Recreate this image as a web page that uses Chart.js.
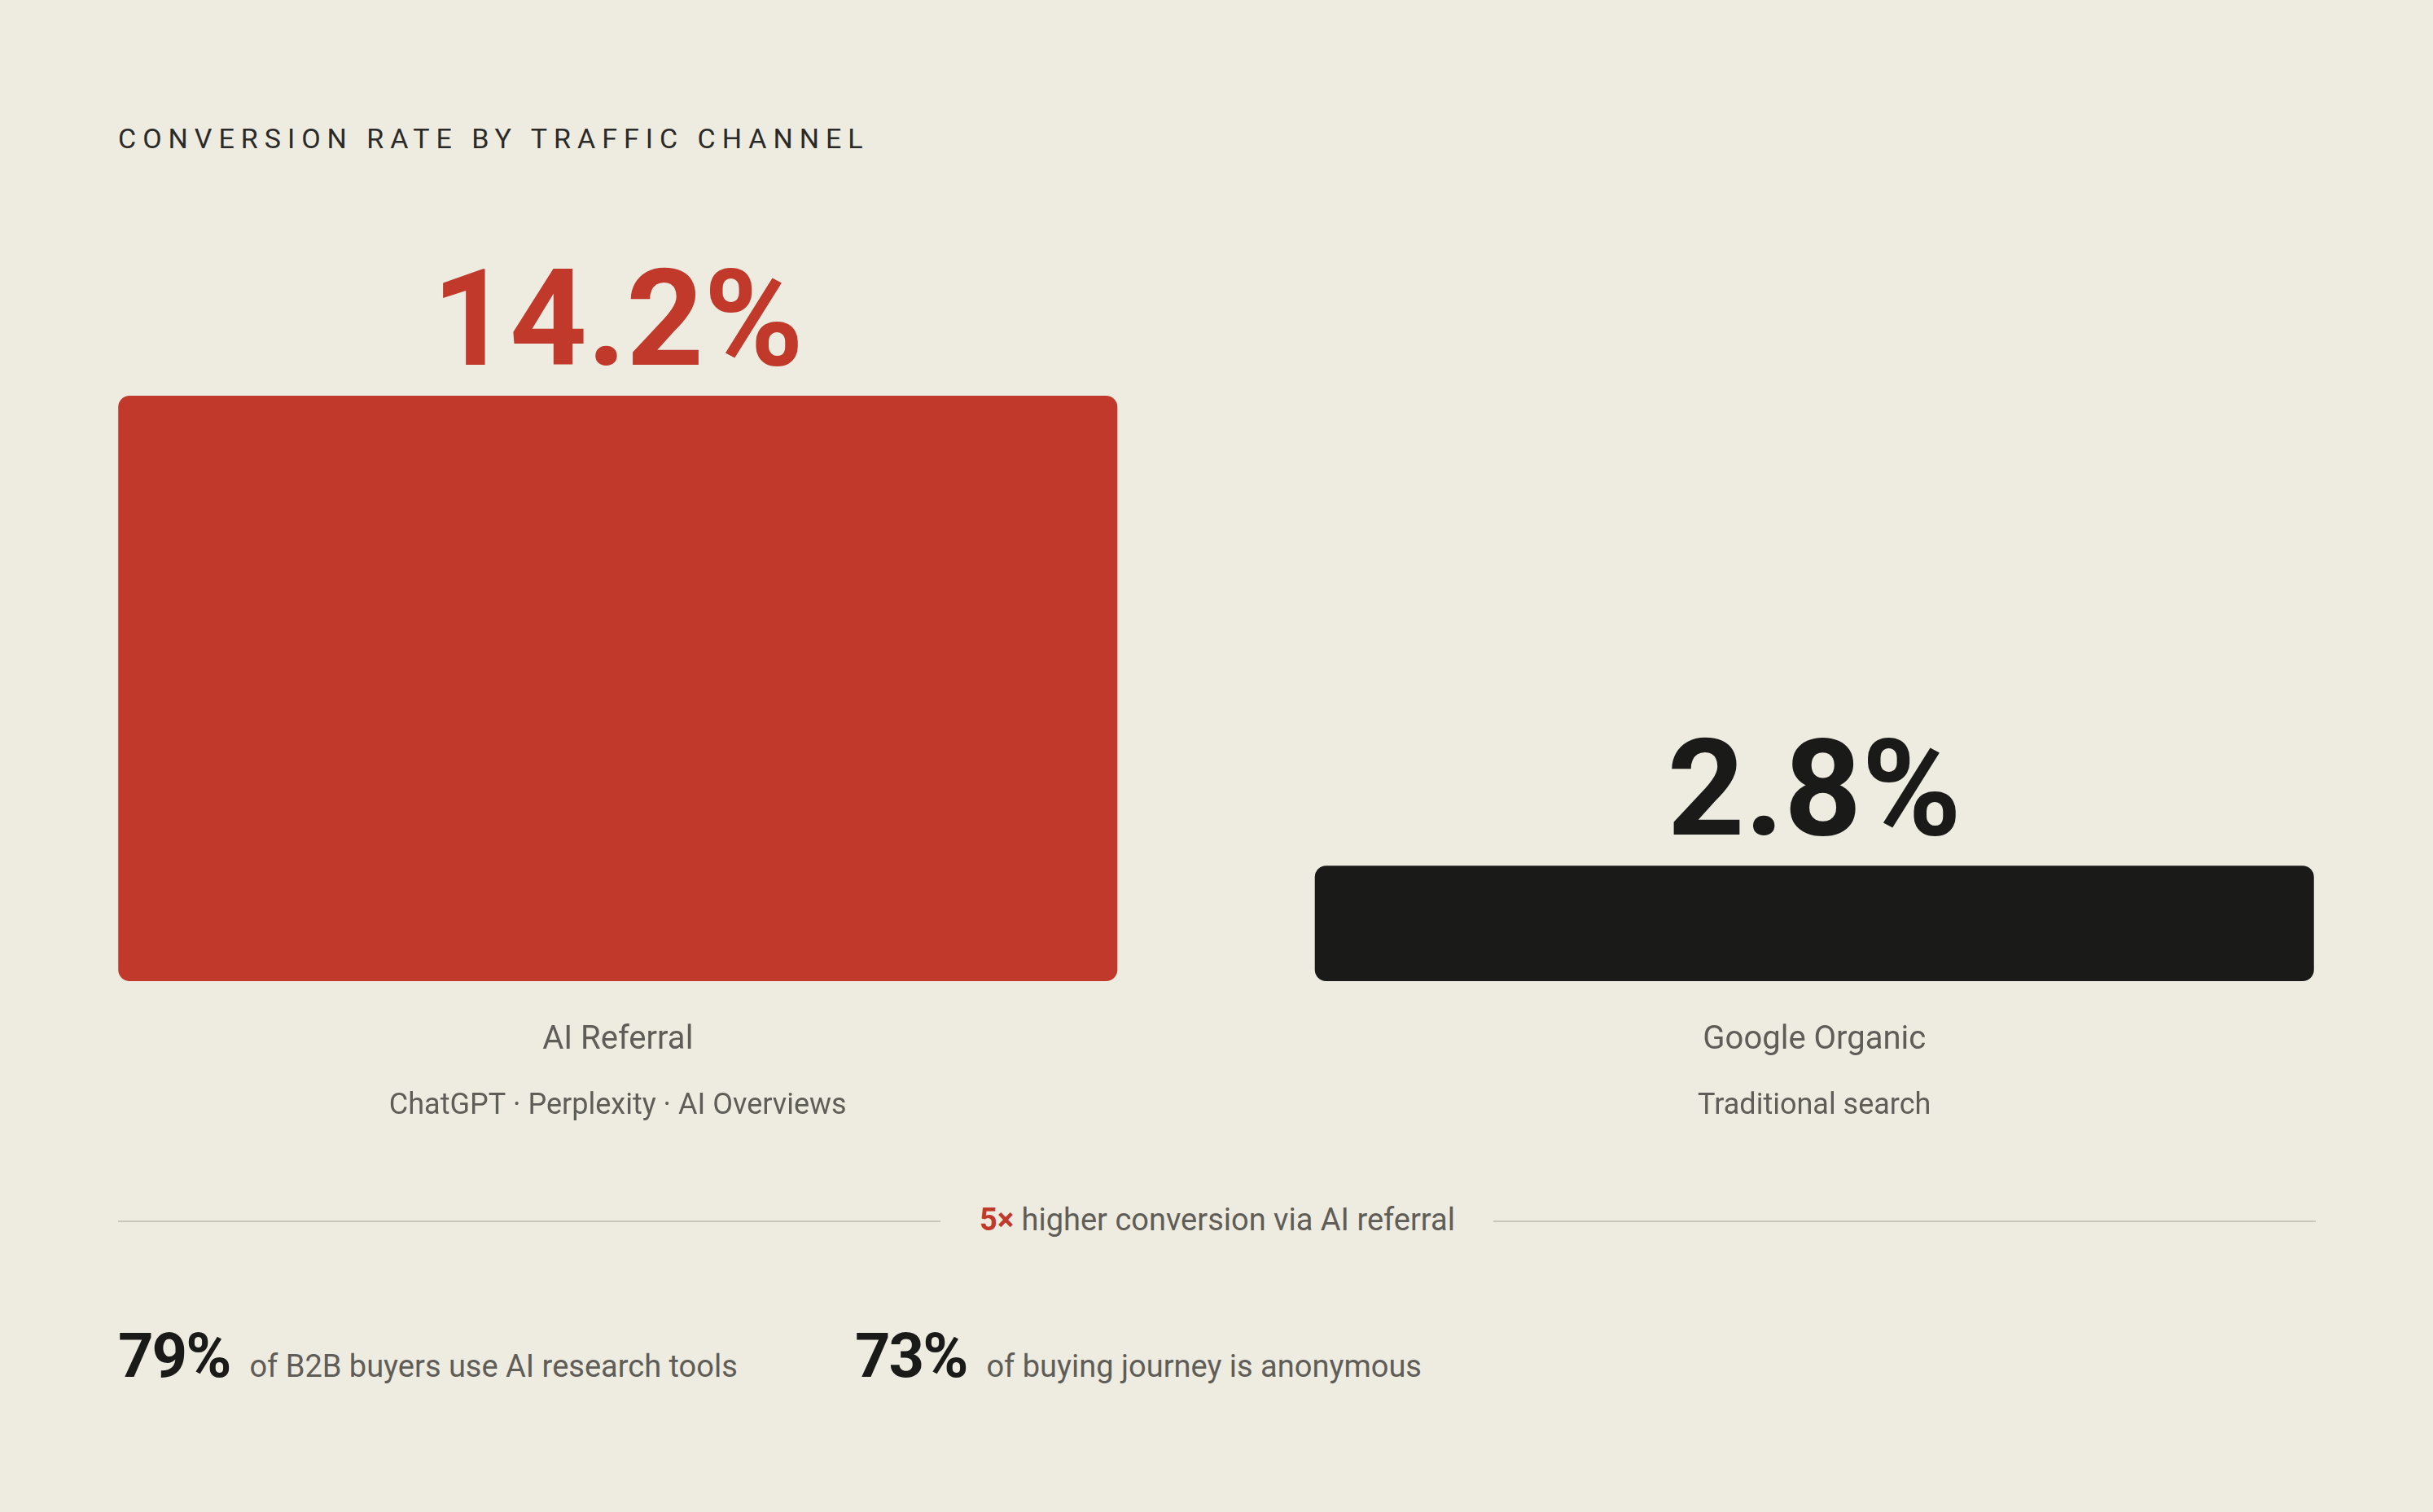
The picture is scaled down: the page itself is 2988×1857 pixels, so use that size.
<!DOCTYPE html>
<html><head><meta charset="utf-8">
<script src="https://cdn.jsdelivr.net/npm/chart.js@4"></script>
<style>
html,body{margin:0;padding:0;background:#eeebe0;width:2988px;height:1857px;overflow:hidden;font-family:Roboto,"Noto Sans",sans-serif;}
#title{position:absolute;left:145px;top:150px;font-size:34px;letter-spacing:8px;color:#2a2a28;}
#wrap{position:absolute;left:24px;top:300px;width:2939px;height:1150px;}
.line{position:absolute;top:1499px;height:2px;background:#c9c6bb;}
#mid{position:absolute;top:1476px;left:1155px;width:680px;text-align:center;font-size:38px;color:#5f5d57;}
#mid b{color:#c0392b;}
.stat{position:absolute;top:1620px;white-space:nowrap;}
.stat b{font-size:76px;color:#1a1a18;font-weight:700;letter-spacing:-2px;}
.stat span{font-size:38px;color:#5f5d57;margin-left:24px;}
</style></head><body>
<div id="title">CONVERSION RATE BY TRAFFIC CHANNEL</div>
<div id="wrap"><canvas id="c"></canvas></div>
<div class="line" style="left:145px;width:1010px"></div>
<div class="line" style="left:1834px;width:1010px"></div>
<div id="mid"><b>5×</b> higher conversion via AI referral</div>
<div class="stat" style="left:145px"><b>79%</b><span>of B2B buyers use AI research tools</span></div>
<div class="stat" style="left:1050px"><b>73%</b><span>of buying journey is anonymous</span></div>
<script>
const categories=["AI Referral","Google Organic"];
const subLabels=["ChatGPT · Perplexity · AI Overviews","Traditional search"];
const values=[14.2,2.8];
const colors=["#c0392b","#1a1a18"];
const labelPlugin={id:"lbl",afterDatasetsDraw(chart){
  const ctx=chart.ctx,meta=chart.getDatasetMeta(0),base=chart.chartArea.bottom;
  meta.data.forEach((bar,i)=>{
    ctx.save();ctx.textAlign="center";
    ctx.fillStyle=colors[i];ctx.textBaseline="alphabetic";
    ctx.font="bold 166px Roboto, sans-serif";
    ctx.fillText(values[i].toFixed(1)+"%",bar.x,bar.y-38);
    ctx.fillStyle="#5f5d57";ctx.textBaseline="middle";
    ctx.font="40px Roboto, sans-serif";
    ctx.fillText(categories[i],bar.x,base+73);
    ctx.font="36px Roboto, sans-serif";
    ctx.fillText(subLabels[i],bar.x,base+154);
    ctx.restore();
  });
}};
new Chart(document.getElementById("c"),{type:"bar",
 data:{labels:categories,datasets:[{data:values,backgroundColor:colors,borderRadius:14,borderSkipped:false,categoryPercentage:1,barPercentage:0.835}]},
 options:{responsive:true,maintainAspectRatio:false,animation:false,
  layout:{padding:{top:186,bottom:245,left:0,right:0}},
  plugins:{legend:{display:false},tooltip:{enabled:false}},
  scales:{x:{display:false},y:{display:false,min:0,max:14.2}}},
 plugins:[labelPlugin]});
</script></body></html>
